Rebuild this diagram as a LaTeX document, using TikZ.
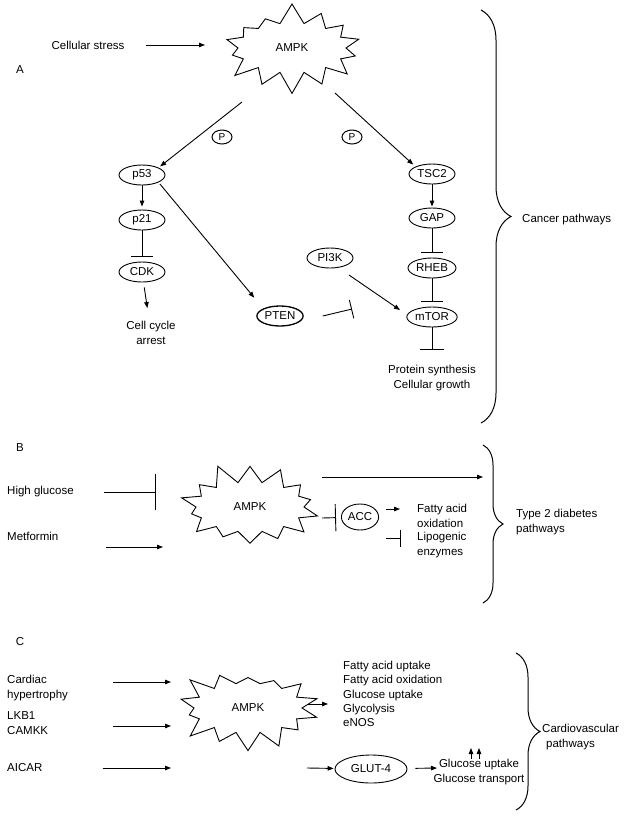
\documentclass[tikz,border=0pt]{standalone}
\usepackage{fontspec}
\setmainfont{Liberation Sans}
\usetikzlibrary{shapes.geometric, shapes.symbols, arrows.meta, decorations.pathreplacing}

\begin{document}
\begin{tikzpicture}[x = 1pt, y = -1pt,
    every node/.style = {font = \fontsize{11.5}{14.5}\selectfont},
    prot/.style = {ellipse, draw, line width = 0.9pt, inner sep = 1pt,
      minimum width = 46pt, minimum height = 20pt},
    ampk/.style = {starburst, draw, line width = 0.9pt, starburst points = 14,
      starburst point height = 21pt, minimum width = 150pt,
      minimum height = 92pt, random starburst = #1},
    phos/.style = {ellipse, draw, line width = 1pt, inner sep = 0.5pt,
      minimum width = 20pt, minimum height = 14pt,
      font = \fontsize{10}{11}\selectfont},
    txt/.style = {anchor = west, align = left, inner sep = 0pt},
    act/.style = {line width = 0.9pt, -{Triangle[length = 6pt, width = 4.5pt]}},
    inh/.style = {line width = 0.9pt, -{Bar[width = #1]}},
    inh/.default = 22pt,
    pathbrace/.style = {decorate, decoration = {brace, amplitude = #1},
      line width = 1pt}]
  \useasboundingbox (0, 0) rectangle (629, 823);

  \node (labA) at (20, 70) {A};
  \node (stress) at (88, 45) {Cellular stress};
  \node[ampk = 7] (ampkA) at (292, 48) {AMPK};
  \coordinate (stressTo) at (205, 45);
  \draw[act] ([xshift = 18pt] stress.east) -- (stressTo);

  \node[prot] (p53) at (142, 175) {p53};
  \node[prot] (p21) at (142, 220) {p21};
  \node[prot] (cdk) at (142, 272) {CDK};
  \node[align = center] (arrest) at (151, 333) {Cell cycle\\arrest};
  \node[prot, line width = 1.3pt] (pten) at (280, 316) {PTEN};
  \node[prot] (pi3k) at (330, 258) {PI3K};
  \node[prot] (tsc2) at (432, 174) {TSC2};
  \node[prot] (gap) at (432, 218) {GAP};
  \node[prot] (rheb) at (432, 268) {RHEB};
  \node[prot] (mtor) at (432, 317) {mTOR};
  \node[align = center] (growth) at (432, 378) {Protein synthesis\\Cellular growth};
  \node[phos] (phosL) at (222, 137) {P};
  \node[phos] (phosR) at (352, 137) {P};

  \coordinate (ampkSW) at (242, 102);
  \coordinate (ampkSE) at (335, 93);
  \coordinate (pi3kOut) at (349, 275);
  \coordinate (mtorIn) at (400, 310);
  \coordinate (ptenBar) at (352, 309);
  \draw[act, shorten >= 2pt] (ampkSW) -- (p53.north east);
  \draw[act, shorten >= 3pt] (ampkSE) -- (tsc2.north west);
  \draw[act, shorten >= 3pt] (p53) -- (p21);
  \draw[inh, shorten >= 5pt] (p21) -- (cdk);
  \draw[act, shorten <= 5pt, shorten >= 10pt] (cdk) -- (arrest);
  \draw[act, shorten <= 2pt, shorten >= 14pt] (p53.south east) -- (pten.north west);
  \draw[act] (pi3kOut) -- (mtorIn);
  \draw[inh = 19pt] ([xshift = 19pt] pten.east) -- (ptenBar);
  \draw[act, shorten >= 1pt] (tsc2) -- (gap);
  \draw[inh, shorten >= 5pt] (gap) -- (rheb);
  \draw[inh, shorten >= 5pt] (rheb) -- (mtor);
  \draw[inh = 24pt, shorten >= 12pt] (mtor) -- (growth);

  \draw[pathbrace = 30pt] (481, 10) -- (481, 423);
  \node[txt] (cancer) at (522, 220) {Cancer pathways};

  \node (labB) at (20, 448) {B};
  \node[txt] (glucose) at (7, 492) {High glucose};
  \node[txt] (metformin) at (7, 536) {Metformin};
  \node[ampk = 11] (ampkB) at (250, 507) {AMPK};
  \coordinate (glucBar) at (156, 492);
  \coordinate (metFrom) at (106, 547);
  \coordinate (metTo) at (163, 547);
  \draw[inh = 36pt] ([xshift = 30pt] glucose.east) -- (glucBar);
  \draw[act] (metFrom) -- (metTo);

  \node[ellipse, draw, line width = 0.9pt, inner sep = 1pt, minimum width = 35pt,
    minimum height = 26pt] (acc) at (360, 517) {ACC};
  \node[txt] (fao) at (417, 516) {Fatty acid\\oxidation};
  \node[txt] (lipo) at (417, 545) {Lipogenic\\enzymes};
  \coordinate (ampkBout) at (322, 477);
  \coordinate (typeIn) at (483, 477);
  \coordinate (ampkBacc) at (322, 518);
  \coordinate (accOut) at (386, 509);
  \coordinate (faoIn) at (400, 509);
  \coordinate (lipoOut) at (386, 538);
  \coordinate (lipoBar) at (401, 538);
  \draw[act] (ampkBout) -- (typeIn);
  \draw[inh = 27pt, shorten >= 5pt] (ampkBacc) -- (acc);
  \draw[act] (accOut) -- (faoIn);
  \draw[inh = 17pt] (lipoOut) -- (lipoBar);

  \draw[pathbrace = 20pt] (483, 445) -- (483, 603);
  \node[txt] (diabetes) at (516, 522) {Type 2 diabetes\\pathways};

  \node (labC) at (20, 642) {C};
  \node[txt] (cardiac) at (7, 688) {Cardiac\\hypertrophy};
  \node[txt] (lkb) at (7, 723) {LKB1\\CAMKK};
  \node[txt] (aicar) at (7, 768) {AICAR};
  \node[ampk = 23] (ampkC) at (248, 708) {AMPK};
  \coordinate (cardFrom) at (113, 682);
  \coordinate (cardTo) at (171, 682);
  \coordinate (lkbFrom) at (113, 726);
  \coordinate (lkbTo) at (171, 726);
  \coordinate (aicarTo) at (171, 768);
  \draw[act] (cardFrom) -- (cardTo);
  \draw[act] (lkbFrom) -- (lkbTo);
  \draw[act] ([xshift = 60pt] aicar.east) -- (aicarTo);

  \node[txt, font = \fontsize{11.5}{14.2}\selectfont] (effects) at (343, 694)
    {Fatty acid uptake\\Fatty acid oxidation\\Glucose uptake\\Glycolysis\\eNOS};
  \node[ellipse, draw, line width = 0.9pt, inner sep = 1pt, minimum width = 72pt,
    minimum height = 28pt] (glut) at (371, 769) {GLUT-4};
  \node[align = center, inner sep = 0pt] (transport) at (479, 772)
    {Glucose uptake\\Glucose transport};
  \coordinate (ampkCout) at (307, 704);
  \coordinate (effectsIn) at (328, 704);
  \coordinate (glutFrom) at (307, 768);
  \coordinate (transIn) at (437, 768);
  \coordinate (upA) at (471, 759);
  \coordinate (upB) at (479, 759);
  \draw[act] (ampkCout) -- (effectsIn);
  \draw[act, shorten >= 1pt] (glutFrom) -- (glut);
  \draw[act, shorten <= 8pt] (glut) -- (transIn);
  \draw[act] (upA) -- ++(0, -11);
  \draw[act] (upB) -- ++(0, -11);

  \draw[pathbrace = 24pt] (516, 653) -- (516, 810);
  \node[txt] (cardio) at (542, 737) {Cardiovascular\\\hspace*{4pt}pathways};
\end{tikzpicture}
\end{document}
